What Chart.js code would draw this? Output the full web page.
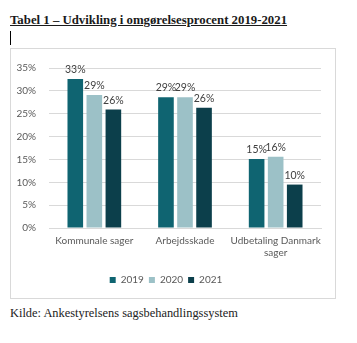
<!DOCTYPE html>
<html>
<head>
<meta charset="utf-8">
<script src="https://cdn.jsdelivr.net/npm/chart.js@4"></script>
<style>
html,body{margin:0;padding:0;background:#fff;width:357px;height:343px;overflow:hidden;}
#title{position:absolute;left:10px;top:13px;font-family:"Liberation Serif",serif;font-weight:bold;font-size:12.8px;color:#1a1a1a;text-decoration:underline;white-space:nowrap;}
#cursor{position:absolute;left:10px;top:31px;width:1px;height:14px;background:#000;}
#box{position:absolute;left:10px;top:48px;width:324px;height:249px;border:1px solid #d9d9d9;}
#kilde{position:absolute;left:10px;top:306px;font-family:"Liberation Serif",serif;font-size:12.4px;color:#222;white-space:nowrap;}
canvas{position:absolute;left:0;top:0;}
</style>
</head>
<body>
<div id="title">Tabel 1 – Udvikling i omgørelsesprocent 2019-2021</div>
<div id="cursor"></div>
<div id="box"><canvas id="c" width="324" height="249"></canvas></div>
<div id="kilde">Kilde: Ankestyrelsens sagsbehandlingssystem</div>
<script>
const categories = [["Kommunale sager"], ["Arbejdsskade"], ["Udbetaling Danmark", "sager"]];
const seriesNames = ["2019", "2020", "2021"];
const values2019 = [32.6, 28.6, 15.1];
const values2020 = [29.1, 28.6, 15.6];
const values2021 = [25.9, 26.3, 9.5];
const yTicks = [0, 5, 10, 15, 20, 25, 30, 35];
const colors = ["#0f6471", "#9cc1c7", "#0c3f4b"];

const labelPlugin = {
  id: 'barLabels',
  afterDatasetsDraw(chart) {
    const ctx = chart.ctx;
    ctx.save();
    ctx.font = '10.5px Lato';
    ctx.fillStyle = '#404040';
    ctx.textAlign = 'center';
    ctx.textBaseline = 'bottom';
    chart.data.datasets.forEach((ds, i) => {
      chart.getDatasetMeta(i).data.forEach((bar, j) => {
        ctx.fillText(Math.round(ds.data[j]) + '%', bar.x, bar.y - 4);
      });
    });
    ctx.restore();
  }
};

new Chart(document.getElementById('c'), {
  type: 'bar',
  data: {
    labels: categories,
    datasets: [
      {label: seriesNames[0], data: values2019, backgroundColor: colors[0]},
      {label: seriesNames[1], data: values2020, backgroundColor: colors[1]},
      {label: seriesNames[2], data: values2021, backgroundColor: colors[2]}
    ]
  },
  options: {
    responsive: false,
    animation: false,
    devicePixelRatio: 1,
    categoryPercentage: 0.63,
    barPercentage: 0.82,
    layout: {padding: {top: 15, right: 14, bottom: 3, left: 0}},
    plugins: {
      legend: {
        position: 'bottom',
        labels: {boxWidth: 6, boxHeight: 6, padding: 5, color: '#595959', font: {family: 'Lato', size: 10}}
      },
      tooltip: {enabled: false}
    },
    scales: {
      x: {
        grid: {display: false, drawTicks: false},
        border: {display: true, color: '#d9d9d9'},
        afterFit(axis) { axis.height = 42; },
        ticks: {color: '#595959', font: {family: 'Lato', size: 10}, padding: 7, maxRotation: 0, autoSkip: false}
      },
      y: {
        min: 0, max: 35,
        afterBuildTicks(axis) { axis.ticks = yTicks.map(v => ({value: v})); },
        afterFit(axis) { axis.width = 38; },
        grid: {color: '#d9d9d9', drawTicks: false},
        border: {display: false},
        ticks: {color: '#595959', font: {family: 'Lato', size: 10}, padding: 13, callback: v => v + '%'}
      }
    }
  },
  plugins: [labelPlugin]
});
</script>
</body>
</html>
